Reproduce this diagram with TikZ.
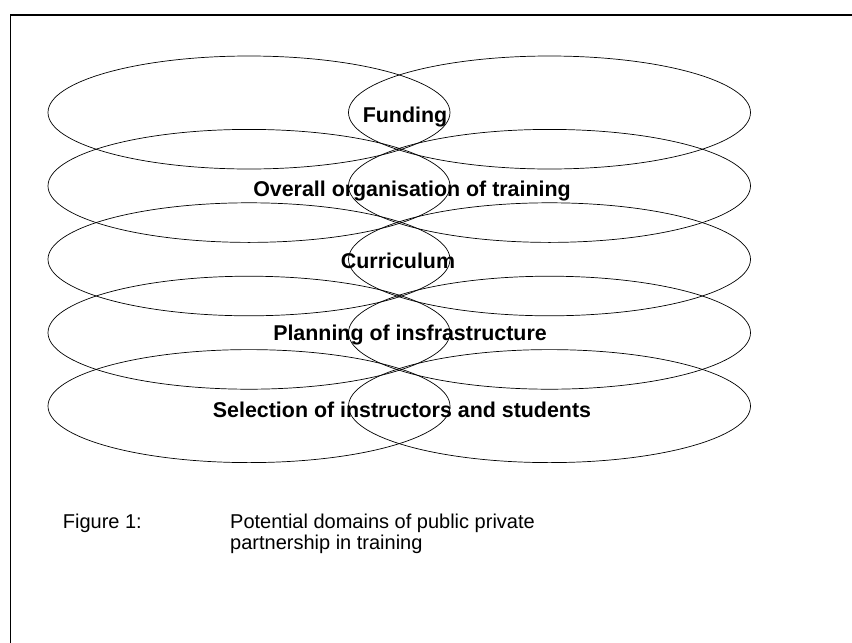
\documentclass[tikz,border=0pt]{standalone}
\usepackage{fontspec}
\setmainfont{Liberation Sans}
\begin{document}
\begin{tikzpicture}[x=1pt,y=-1pt,
  domainring/.style={draw=black,line width=0.7pt},
  domaintext/.style={anchor=base,inner sep=0pt,font=\fontsize{21.4}{25}\selectfont\bfseries},
  captiontext/.style={anchor=base west,inner sep=0pt,font=\fontsize{20}{22}\selectfont}]
\useasboundingbox (0,0) rectangle (852,643);
% outer frame, running off the page on the right and at the bottom
\draw[line width=1.5pt] (860,15) -- (10.5,15) -- (10.5,660);
% two overlapping ellipses per domain row
\foreach \y in {112.5,185.9,259.3,332.7,406.1}{
  \draw[domainring] (249,\y) ellipse [x radius=201pt, y radius=56.5pt];
  \draw[domainring] (549.5,\y) ellipse [x radius=201pt, y radius=56.5pt];
}
\node[domaintext] (funding) at (405,122) {Funding};
\node[domaintext] (organisation) at (412,196.7) {Overall organisation of training};
\node[domaintext] (curriculum) at (398,268) {Curriculum};
\node[domaintext] (planning) at (410,340.7) {Planning of insfrastructure};
\node[domaintext] (selection) at (402,417.7) {Selection of instructors and students};
% caption
\node[captiontext] (fig) at (62.7,528.3) {Figure 1:};
\node[captiontext] (cap1) at (230,528.3) {Potential domains of public private};
\node[captiontext] (cap2) at (230,549.8) {partnership in training};
\end{tikzpicture}
\end{document}
